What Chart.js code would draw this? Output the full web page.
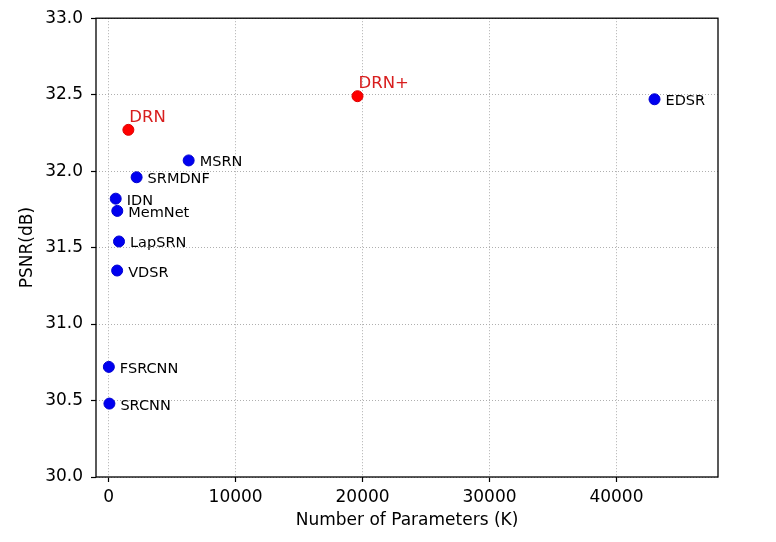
<!DOCTYPE html>
<html lang="en">
<head>
  <meta charset="UTF-8" />
  <title>PSNR vs parameters</title>
  <script src="https://cdn.jsdelivr.net/npm/chart.js@4.4.0/dist/chart.umd.min.js"></script>
  <style>
    *{box-sizing:border-box;margin:0;padding:0}
    body{background:#fff;width:776px;height:542px;overflow:hidden}
    #chart{display:block}
  </style>
</head>
<body>
<canvas id="chart" width="776" height="542"></canvas>
<script>
/* data */
const otherNames  = ['SRCNN','FSRCNN','VDSR','LapSRN','MemNet','IDN','SRMDNF','MSRN','EDSR'];
const otherParams = [57, 12, 665, 813, 677, 553, 2200, 6300, 43000];
const otherPsnr   = [30.48, 30.72, 31.35, 31.54, 31.74, 31.82, 31.96, 32.07, 32.47];
const drnNames  = ['DRN','DRN+'];
const drnParams = [1550, 19600];
const drnPsnr   = [32.27, 32.49];
const xTicks = [0, 10000, 20000, 30000, 40000];
const yTicks = [30.0, 30.5, 31.0, 31.5, 32.0, 32.5, 33.0];

const FONT = "'DejaVu Sans', sans-serif";
const pts = (xs, ys) => xs.map((x, i) => ({x, y: ys[i]}));

/* text next to each marker + box frame */
const annot = {
  id: 'annot',
  afterDatasetsDraw(chart) {
    const ctx = chart.ctx;
    ctx.save();
    ctx.textAlign = 'left';
    ctx.textBaseline = 'alphabetic';
    chart.data.datasets.forEach((ds, di) => {
      const meta = chart.getDatasetMeta(di);
      meta.data.forEach((p, i) => {
        if (ds.red) {
          ctx.font = "16.5px " + FONT;
          ctx.fillStyle = '#d81e1e';
          ctx.fillText(ds.names[i], p.x + 1, p.y - 8);
        } else {
          ctx.font = "14.5px " + FONT;
          ctx.fillStyle = '#000';
          ctx.fillText(ds.names[i], p.x + 11, p.y + 6);
        }
      });
    });
    const a = chart.chartArea;
    ctx.strokeStyle = '#000';
    ctx.lineWidth = 1.3;
    ctx.strokeRect(a.left, a.top, a.right - a.left, a.bottom - a.top);
    ctx.restore();
  }
};

const gridOpts = {color:'#a6a6a6', lineWidth:0.9, tickLength:5, tickColor:'#000', tickWidth:1.2, tickBorderDash:[]};
const borderOpts = {display:false, dash:[1,2]};

new Chart('chart', {
  type: 'scatter',
  data: {
    datasets: [
      {names: otherNames, data: pts(otherParams, otherPsnr), backgroundColor:'#0000f0', borderColor:'#0000d0', borderWidth:1, pointRadius:5.5},
      {names: drnNames, red:true, data: pts(drnParams, drnPsnr), backgroundColor:'#ff0000', borderColor:'#dd0000', borderWidth:1, pointRadius:5.5}
    ]
  },
  options: {
    responsive:false, animation:false, devicePixelRatio:1,
    layout:{padding:{top:16, right:58, left:0, bottom:0}},
    plugins:{legend:{display:false}, tooltip:{enabled:false}},
    scales:{
      x:{
        type:'linear', min:-1000, max:48000,
        afterBuildTicks: s => { s.ticks = xTicks.map(v => ({value:v})); },
        afterFit: s => { s.height = 65; },
        ticks:{color:'#000', font:{family:FONT, size:17}, padding:5, maxRotation:0, callback: v => String(v)},
        grid:gridOpts,
        border:borderOpts,
        title:{display:true, text:'Number of Parameters (K)', color:'#000', font:{family:FONT, size:17}, padding:{top:0, bottom:11}}
      },
      y:{
        type:'linear', min:30, max:33,
        afterBuildTicks: s => { s.ticks = yTicks.map(v => ({value:v})); },
        afterFit: s => { s.width = 96; },
        ticks:{color:'#000', font:{family:FONT, size:17}, padding:8, callback: v => v.toFixed(1)},
        grid:gridOpts,
        border:borderOpts,
        title:{display:true, text:'PSNR(dB)', color:'#000', font:{family:FONT, size:17}, padding:{top:17, bottom:0}}
      }
    }
  },
  plugins:[annot]
});
</script>
</body>
</html>
